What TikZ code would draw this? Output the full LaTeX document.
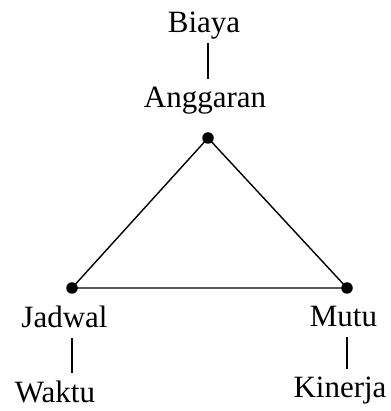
\documentclass[tikz,border=0pt]{standalone}
\usepackage{fontspec}
\setmainfont{Liberation Serif}
\usetikzlibrary{calc, positioning}

\begin{document}
\begin{tikzpicture}[x=1pt, y=1pt,
    word/.style={anchor=base, inner sep=0pt, text height=29pt, text depth=10pt,
                 font=\fontsize{31}{36}\selectfont},
    vertex/.style={circle, fill=black, inner sep=0pt, minimum size=11.5pt},
    edge/.style={line width=1.4pt}]
            \useasboundingbox (0, 0) rectangle (390, 411);
            % triangle corners
            \node[vertex] (top) at (208, 273) {};
            \node[vertex] (left) at (72, 123) {};
            \node[vertex] (right) at (347, 123) {};
            \draw[edge] (top.center) -- (left.center) -- (right.center) -- cycle;
            % labels
            \node[word] (biaya) at (204, 378) {Biaya};
            \node[word] (anggaran) at (205, 303) {Anggaran};
            \node[word] (jadwal) at (64.5, 83) {Jadwal};
            \node[word] (waktu) at (55, 9) {Waktu};
            \node[word] (mutu) at (343.5, 84) {Mutu};
            \node[word] (kinerja) at (340, 13) {Kinerja};
            \draw[edge] (top |- biaya.south) -- (top |- anggaran.north);
            \draw[edge] (left |- jadwal.south) -- (left |- waktu.north);
            \draw[edge] (right |- mutu.south) -- (right |- kinerja.north);
        \end{tikzpicture}
\end{document}
